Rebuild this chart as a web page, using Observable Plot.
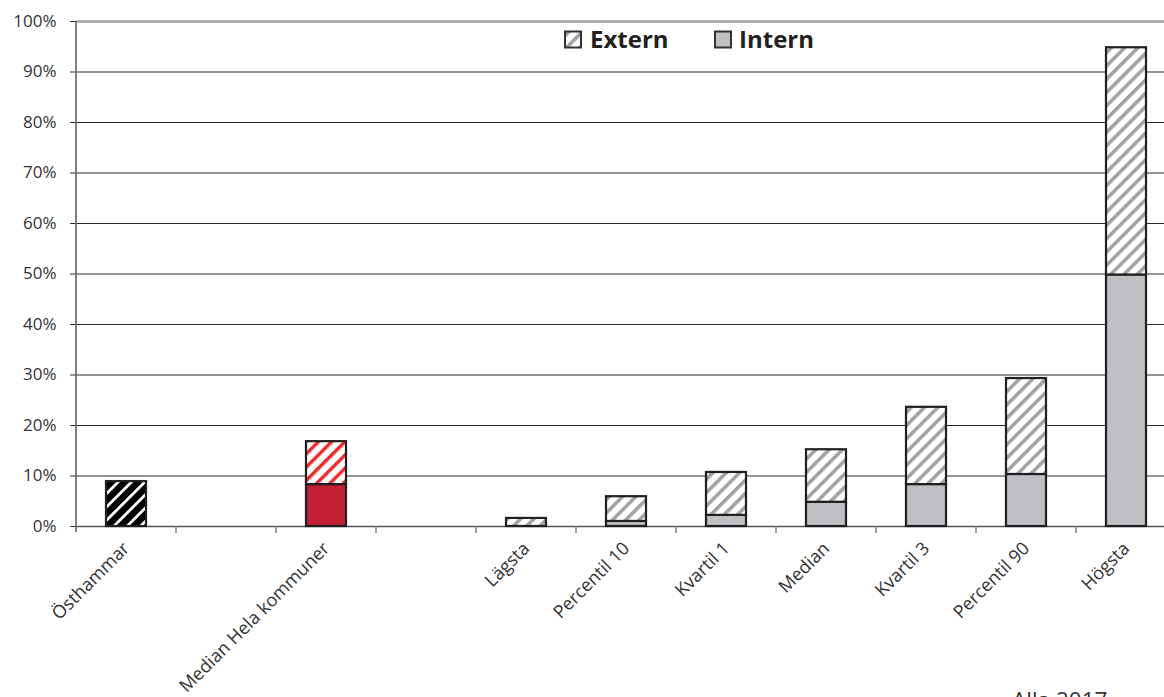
<!DOCTYPE html>
<html><head><meta charset="utf-8">
<script src="https://cdn.jsdelivr.net/npm/d3@7"></script>
<script src="https://cdn.jsdelivr.net/npm/@observablehq/plot@0.6"></script>
<style>
html,body{margin:0;padding:0;background:#fff;overflow:hidden;}
#chart{position:relative;width:1164px;height:697px;overflow:hidden;}
</style></head><body><div id="chart"></div>
<script>
// x slots (two empty spacer slots)
const categories = ["Östhammar", "gap1", "Median Hela kommuner", "gap2", "Lägsta", "Percentil 10", "Kvartil 1", "Median", "Kvartil 3", "Percentil 90", "Högsta"];
const barCategories = ["Östhammar", "Median Hela kommuner", "Lägsta", "Percentil 10", "Kvartil 1", "Median", "Kvartil 3", "Percentil 90", "Högsta"];
const barGroups = ["own", "median", "stat", "stat", "stat", "stat", "stat", "stat", "stat"];
const internValues = [0, 8.3, 0, 1.0, 2.2, 4.8, 8.3, 10.3, 49.8];
const externValues = [8.9, 8.5, 1.6, 4.9, 8.5, 10.4, 15.3, 19.0, 45.0];
const yTicks = [0, 10, 20, 30, 40, 50, 60, 70, 80, 90, 100];
const seriesNames = ["Extern", "Intern"];
const footnote = "Alla 2017";

const fills = {
  Intern: {own: "#000", median: "#c41f35", stat: "#bfbfc4"},
  Extern: {own: "url(#hatch-black)", median: "url(#hatch-red)", stat: "url(#hatch-gray)"}
};

const rows = [];
barCategories.forEach((c, i) => {
  if (internValues[i] > 0) rows.push({cat: c, series: "Intern", value: internValues[i], fill: fills.Intern[barGroups[i]]});
  if (externValues[i] > 0) rows.push({cat: c, series: "Extern", value: externValues[i], fill: fills.Extern[barGroups[i]]});
});

const axisLines = (index, {x, y}) => {
  const g = d3.create("svg:g");
  const step = x.step(), bw = x.bandwidth();
  const y0 = y(0), yTop = y(100);
  const left = x(categories[0]) + bw / 2 - step / 2;
  categories.forEach(c => {
    const bx = x(c) + bw / 2 + step / 2;
    g.append("line").attr("x1", bx).attr("x2", bx).attr("y1", y0).attr("y2", y0 + 7)
      .attr("stroke", "#808080").attr("stroke-width", 1.5);
  });
  g.append("line").attr("x1", left).attr("x2", left).attr("y1", yTop).attr("y2", y0 + 6)
    .attr("stroke", "#808080").attr("stroke-width", 2);
  return g.node();
};

const chart = Plot.plot({
  width: 1164, height: 697,
  marginLeft: 76, marginRight: 0, marginTop: 21, marginBottom: 171,
  style: {fontFamily: "'Open Sans', sans-serif", background: "#fff"},
  x: {domain: categories, range: [76, 1176], paddingInner: 0.6, paddingOuter: 0.3, align: 0.5, label: null},
  y: {domain: [0, 100], label: null},
  color: {type: "identity"},
  marks: [
    Plot.ruleY(yTicks.filter(t => t > 0 && t < 100), {stroke: "#2a2a2a", strokeWidth: 1}),
    Plot.ruleY([100], {stroke: "#a0a0a0", strokeWidth: 2.5}),
    Plot.ruleY([0], {stroke: "#555", strokeWidth: 1.5}),
    axisLines,
    Plot.barY(rows, {x: "cat", y: "value", z: "series", fill: "fill", stroke: "#231f20", strokeWidth: 2.2}),
    Plot.axisY(yTicks, {tickSize: 6, tickPadding: 14, tickFormat: d => d + "%", fontSize: 17, color: "#333"}),
    Plot.axisX({tickSize: 0, tickPadding: 19, tickRotate: -45, fontSize: 18, color: "#333",
      tickFormat: d => d.startsWith("gap") ? "" : d})
  ]
});

const svg = d3.select(chart);
svg.insert("defs", ":first-child").html(`
  <pattern id="hatch-gray" patternUnits="userSpaceOnUse" width="9.4" height="9.4" patternTransform="rotate(45)">
    <rect width="9.4" height="9.4" fill="#fff"/><rect width="3.6" height="9.4" fill="#a3a3a3"/>
  </pattern>
  <pattern id="hatch-red" patternUnits="userSpaceOnUse" width="9.4" height="9.4" patternTransform="rotate(45)">
    <rect width="9.4" height="9.4" fill="#fff"/><rect width="3.4" height="9.4" fill="#ee2a2f"/>
  </pattern>
  <pattern id="hatch-black" patternUnits="userSpaceOnUse" width="9.4" height="9.4" patternTransform="rotate(45)">
    <rect width="9.4" height="9.4" fill="#000"/><rect width="2.8" height="9.4" fill="#fff"/>
  </pattern>`);

// legend (inside plot area, top)
const leg = svg.append("g").attr("font-family", "'Open Sans', sans-serif").attr("font-weight", "bold")
  .attr("font-size", 24).attr("fill", "#231f20").attr("text-anchor", "start");
const legItems = [
  {name: seriesNames[0], fill: "url(#hatch-gray)", bx: 565, tx: 590},
  {name: seriesNames[1], fill: "#bfbfc4", bx: 715, tx: 739}
];
legItems.forEach(d => {
  leg.append("rect").attr("x", d.bx).attr("y", 31.5).attr("width", 16).attr("height", 16)
    .attr("fill", d.fill).attr("stroke", "#333").attr("stroke-width", 2);
  leg.append("text").attr("x", d.tx).attr("y", 48).text(d.name);
});

svg.append("text").attr("x", 1012).attr("y", 708).attr("font-size", 22.5).attr("fill", "#333")
  .attr("text-anchor", "start").attr("font-family", "'Open Sans', sans-serif").text(footnote);

document.getElementById("chart").appendChild(chart);
</script></body></html>
